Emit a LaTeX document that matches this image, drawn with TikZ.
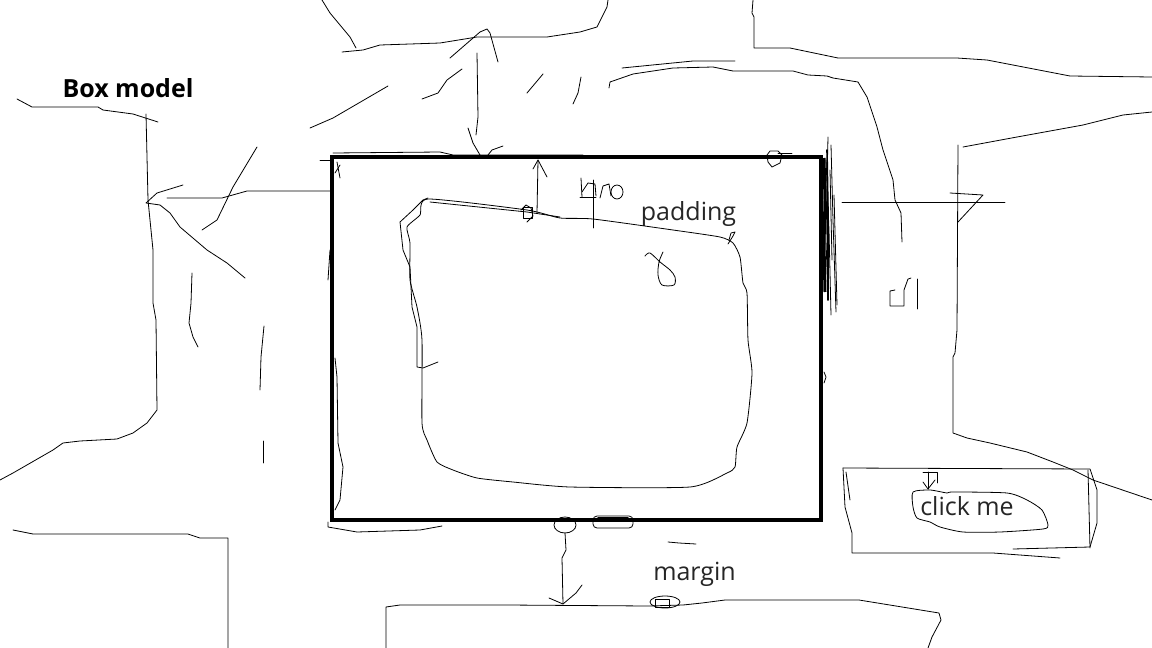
\documentclass[tikz,border=0pt]{standalone}
\usepackage{fontspec}
\setmainfont{Open Sans}
\usetikzlibrary{arrows.meta}
\begin{document}
\begin{tikzpicture}[x=1pt,y=-1pt,
  sk/.style={line width=0.8pt,line cap=round,line join=round},
  skb/.style={line width=1.6pt,line cap=round,line join=round},
  lbl/.style={font=\fontsize{25}{30}\selectfont,inner sep=0pt,anchor=base,text=black!85},
  ttl/.style={font=\fontsize{25}{30}\selectfont\bfseries,inner sep=0pt,anchor=base}]
\useasboundingbox[fill=white] (0,0) rectangle (1152,648);

% ---------- labels ----------
\node[ttl] (title) at (128,97) {Box model};
\node[lbl] (padding) at (688.5,220) {padding};
\node[lbl] (margin) at (694.5,580) {margin};
\node[lbl] (click) at (967,515) {click me};

% ---------- main border box ----------
\node[draw,line width=4pt,minimum width=489pt,minimum height=363pt,inner sep=0pt,outer sep=0pt] (border) at (576.5,338.5) {};

% ---------- inner content blob ----------
\draw[sk] plot[smooth cycle,tension=0.35] coordinates {(428,199) (527,210) (560,218) (593,219) (673,230) (720,237) (733,243) (740,257) (743,283) (747,293) (748,340) (752,373) (747,423) (737,447) (735,467) (727,473) (690,487) (570,487) (513,482) (477,478) (453,470) (437,462) (427,440) (422,423) (422,340) (417,307) (410,280) (410,243) (407,227) (420,215)};
\draw[sk] (428,198)--(423,200)--(413,210)--(400,222)--(403,250)--(410,267)--(412,307)--(417,327)--(417,367)--(423,368)--(438,362);
\draw[sk] (430,202)--(527,212)--(560,217);
\draw[sk] (523,207) rectangle (532,218);
\draw[sk] (521,210)--(526,205)--(531,208)--(533,216)--(527,222);

% inner arrow (content -> border)
\coordinate (pin) at (537,213);
\coordinate (pout) at (538,160);
\draw[sk] (pin) -- (pout);
\draw[sk] (533,169)--(pout)--(547,177);

% "hpo" scribble
\draw[sk] (581,178)--(582,197);
\draw[sk] (582,192)--(588,183)--(595,184)--(596,196);
\draw[sk] (593,180)--(593,228);
\draw[sk] (580,197)--(596,197);
\draw[sk] (600,198)--(603,186)--(609,184)--(611,196);
\draw[sk] (617,192) ellipse (6 and 7);
% loop inside
\draw[sk] plot[smooth,tension=0.5] coordinates {(645,256) (650,253) (660,262) (670,270) (675,277) (674,285) (662,285) (658,275) (659,262) (663,252)};
\draw[sk] (728,244)--(733,236)--(735,232)--(731,233)--(729,240);

% ---------- border decorations ----------
\draw[sk] (333,153)--(440,152)--(453,155)--(583,155);
\draw[sk] (337,162)--(340,178);
\draw[sk] (335,173)--(340,165);
\draw[sk] (320,160)--(332,160);
\draw[sk] (767,155)--(770,151)--(778,151)--(782,155)--(780,163)--(772,167)--(768,162)--cycle;
\draw[sk] (778,153)--(792,153);
% right edge scribble
\draw[line width=3pt] (824,158)--(825,200)--(824,245)--(825,292);
\draw[skb] (827,150)--(828,210)--(828,300);
\draw[sk] (828,137)--(827,180)--(826,240)--(828,300);
\draw[sk] (831,145)--(833,220)--(836,312);
\draw[sk] (826,160)--(829,230)--(831,315);
\draw[sk] (830,170)--(832,260);
\draw[sk] (834,195)--(837,305);
\draw[sk] (824,372)--(826,377)--(824,383);
% left edge strokes
\draw[sk] (330,250)--(328,280);
\draw[sk] (335,358)--(337,377)--(338,443)--(343,467)--(340,500)--(335,510);
\draw[sk] (328,522)--(328,527)--(357,532)--(420,530)--(442,526);
% bottom edge blobs
\draw[sk] (565,525) ellipse (11 and 8);
\draw[sk,rounded corners=4pt] (593,516) rectangle (633,528);
\draw[skb] (598,518)--(628,518);

% ---------- margin arrow and lower box ----------
\coordinate (mtop) at (565,533);
\coordinate (mbot) at (563,604);
\draw[sk] (mtop)--(566,550)--(562,558)--(mbot);
\draw[sk] (549,598)--(mbot)--(576,593)--(582,585);
\draw[sk] (668,542)--(679,543)--(696,544);
\draw[sk] (386,648)--(386,607)--(400,605)--(507,605)--(648,606)--(683,605)--(702,603)--(725,600)--(859,600)--(939,613)--(941,620)--(932,637)--(928,648);
\draw[sk] (665,602) ellipse (15 and 6);
\draw[sk] (655,599) rectangle (669,607);

% ---------- click me button ----------
\draw[sk] (843,468)--(1090,469)--(1097,490)--(1097,523)--(1090,547)--(1013,549);
\draw[sk] (843,468)--(845,507)--(852,533)--(852,553)--(993,553)--(1060,558);
\draw[sk] (1088,470)--(1090,548);
\draw[sk] (846,472)--(850,500);
\draw[sk] plot[smooth cycle,tension=0.4] coordinates {(913,492) (930,490) (947,493) (953,492) (1007,493) (1027,500) (1042,510) (1048,525) (1043,529) (1000,532) (963,532) (940,527) (930,522) (917,518) (913,507)};
\coordinate (ctop) at (928,472);
\coordinate (cbot) at (928,489);
\draw[sk] (ctop)--(cbot);
\draw[sk] (923,472)--(937,472)--(937,483);
\draw[sk] (923,482)--(cbot)--(935,480);

% ---------- loose sketch strokes ----------
\draw[sk] (17,99)--(32,107)--(98,107)--(103,110)--(133,114)--(158,122);
\draw[sk] (146,114)--(148,200)--(153,250)--(153,303)--(156,320)--(157,410)--(147,423)--(133,433)--(117,439)--(80,441)--(63,443)--(53,450)--(13,473)--(0,480);
\draw[sk] (183,185)--(157,193)--(146,203)--(160,205)--(170,213)--(180,227)--(207,250)--(227,263)--(245,278);
\draw[sk] (167,198)--(222,198)--(247,191)--(330,191);
\draw[sk] (257,147)--(233,187)--(217,220)--(202,230);
\draw[sk] (310,128)--(333,118)--(388,86);
\draw[sk] (322,0)--(330,13)--(350,37)--(356,48);
\draw[sk] (342,52)--(363,50)--(380,45)--(440,43)--(477,37)--(547,37)--(580,32)--(597,27)--(607,7)--(608,0);
\draw[sk] (450,58)--(480,32)--(487,29)--(490,33)--(498,62);
\draw[sk] (477,53)--(478,117)--(476,135);
\draw[sk] (468,128)--(473,143)--(480,155);
\draw[sk] (488,155)--(492,150)--(503,146);
\draw[sk] (462,69)--(447,80)--(438,93)--(422,99);
\draw[sk] (543,74)--(527,93);
\draw[sk] (581,77)--(578,93)--(573,104);
\draw[sk] (622,68)--(693,61)--(735,61);
\draw[sk] (609,88)--(610,82)--(633,74)--(673,68)--(713,67)--(733,71)--(793,71)--(808,75)--(827,76)--(833,78)--(858,82)--(867,97)--(877,127)--(883,150)--(893,180)--(895,200)--(901,213)--(902,242);
\draw[sk] (753,0)--(752,13)--(754,17)--(754,48)--(790,48)--(838,58)--(957,58)--(987,60)--(1070,76)--(1152,77);
\draw[sk] (963,147)--(1017,137)--(1083,125)--(1123,115)--(1152,112);
\draw[sk] (958,145)--(957,330)--(955,353)--(953,357)--(953,433)--(967,438)--(990,443)--(1027,452)--(1053,462)--(1073,470)--(1093,480)--(1152,500);
\draw[sk] (842,202)--(1005,202);
\draw[sk] (950,193)--(983,195)--(958,222);
\draw[sk] (895,290)--(890,291)--(890,306)--(904,306)--(904,290)--(908,279)--(911,278);
\draw[sk] (917,279)--(917,309);
\draw[sk] (192,273)--(191,303)--(189,323)--(193,337)--(198,347);
\draw[sk] (264,326)--(261,357)--(260,390);
\draw[sk] (263,441)--(263,463);
\draw[sk] (13,530)--(33,534)--(188,534)--(200,538)--(228,538)--(228,648);
\end{tikzpicture}
\end{document}
